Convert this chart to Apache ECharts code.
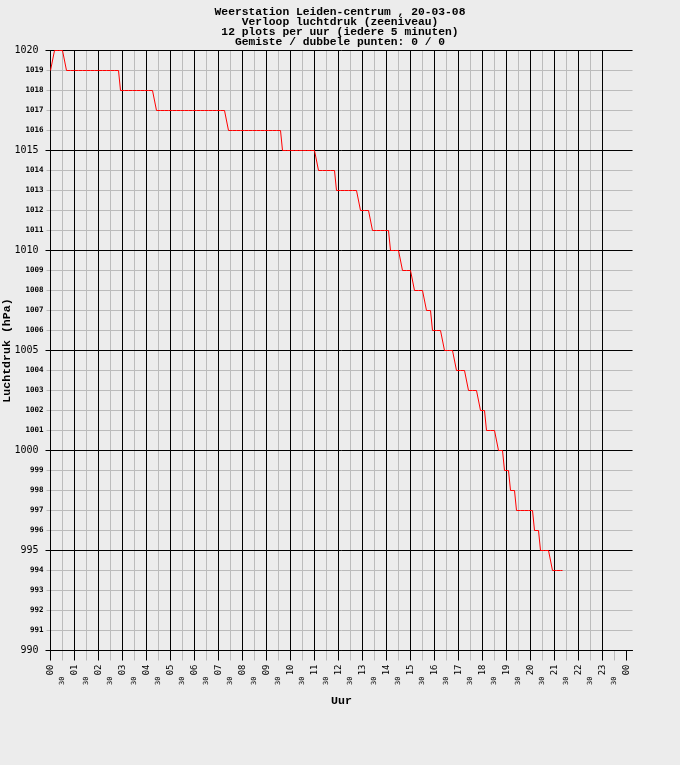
<!DOCTYPE html>
<html>
<head>
<meta charset="utf-8">
<script src="https://cdn.jsdelivr.net/npm/echarts@6/dist/echarts.min.js"></script>
<style>
html,body{margin:0;padding:0;background:#ececec;}
#c{width:680px;height:765px;}
</style>
</head>
<body>
<div id="c"></div>
<script>
const titleLines = [
  'Weerstation Leiden-centrum , 20-03-08',
  'Verloop luchtdruk (zeeniveau)',
  '12 plots per uur (iedere 5 minuten)',
  'Gemiste / dubbele punten: 0 / 0'
];
const xAxisName = 'Uur';
const yAxisName = 'Luchtdruk (hPa)';
const hourTicks = [0,1,2,3,4,5,6,7,8,9,10,11,12,13,14,15,16,17,18,19,20,21,22,23,24];
const hourLabels = ['00','01','02','03','04','05','06','07','08','09','10','11','12','13','14','15','16','17','18','19','20','21','22','23','00'];
const halfHourTicks = [0.5,1.5,2.5,3.5,4.5,5.5,6.5,7.5,8.5,9.5,10.5,11.5,12.5,13.5,14.5,15.5,16.5,17.5,18.5,19.5,20.5,21.5,22.5,23.5];
const halfHourLabel = '30';
const yMin = 990, yMax = 1020;
const sampleMinutes = 5;
// luchtdruk per 5 minuten vanaf 00:00 (12 waarden per uur)
const pressure = [
  1019,1019,1020,1020,1020,1020,1020,1020,1019,1019,1019,1019, // 00
  1019,1019,1019,1019,1019,1019,1019,1019,1019,1019,1019,1019, // 01
  1019,1019,1019,1019,1019,1019,1019,1019,1019,1019,1019,1018, // 02
  1018,1018,1018,1018,1018,1018,1018,1018,1018,1018,1018,1018, // 03
  1018,1018,1018,1018,1018,1017,1017,1017,1017,1017,1017,1017, // 04
  1017,1017,1017,1017,1017,1017,1017,1017,1017,1017,1017,1017, // 05
  1017,1017,1017,1017,1017,1017,1017,1017,1017,1017,1017,1017, // 06
  1017,1017,1017,1017,1017,1016,1016,1016,1016,1016,1016,1016, // 07
  1016,1016,1016,1016,1016,1016,1016,1016,1016,1016,1016,1016, // 08
  1016,1016,1016,1016,1016,1016,1016,1016,1015,1015,1015,1015, // 09
  1015,1015,1015,1015,1015,1015,1015,1015,1015,1015,1015,1015, // 10
  1015,1015,1014,1014,1014,1014,1014,1014,1014,1014,1014,1013, // 11
  1013,1013,1013,1013,1013,1013,1013,1013,1013,1013,1013,1012, // 12
  1012,1012,1012,1012,1012,1011,1011,1011,1011,1011,1011,1011, // 13
  1011,1011,1010,1010,1010,1010,1010,1010,1009,1009,1009,1009, // 14
  1009,1009,1008,1008,1008,1008,1008,1008,1007,1007,1007,1006, // 15
  1006,1006,1006,1006,1006,1005,1005,1005,1005,1005,1005,1004, // 16
  1004,1004,1004,1004,1004,1003,1003,1003,1003,1003,1003,1002, // 17
  1002,1002,1001,1001,1001,1001,1001,1001,1000,1000,1000,999,  // 18
  999,999,998,998,998,997,997,997,997,997,997,997,             // 19
  997,997,996,996,996,995,995,995,995,995,995,994,             // 20
  994,994,994,994,994                                          // 21
];

const MONO = 'DejaVu Sans Mono';
const MONO_B = 'Liberation Mono';
const GRID_MINOR = '#bbbbbb';
const seriesData = pressure.map((v, i) => [i * sampleMinutes / 60, v]);

const chart = echarts.init(document.getElementById('c'));
chart.setOption({
  backgroundColor: '#ececec',
  animation: false,
  title: {
    text: titleLines.join('\n'),
    left: 'center',
    top: 2,
    textStyle: { fontFamily: MONO_B, fontWeight: 'bold', fontSize: 11.3, lineHeight: 10, color: '#000' }
  },
  grid: { left: 50.5, top: 50.5, width: 582, height: 600, containLabel: false, outerBoundsMode: 'none' },
  xAxis: [
    {
      type: 'value', position: 'bottom', min: 0, max: 24.25, interval: 1, z: 2,
      axisLine: { show: true, onZero: false, lineStyle: { color: '#000', width: 1 } },
      axisTick: { show: true, length: 10, lineStyle: { color: '#000', width: 1 }, customValues: hourTicks },
      axisLabel: {
        rotate: 90, margin: 14, fontSize: 9, fontFamily: MONO, color: '#000',
        customValues: hourTicks,
        formatter: v => { const k = hourTicks.indexOf(v); return k >= 0 ? hourLabels[k] : ''; }
      },
      splitLine: { show: true, showMaxLine: false, lineStyle: { color: '#000', width: 1 } },
      name: xAxisName, nameLocation: 'middle', nameGap: 45, nameMoveOverlap: false,
      nameTextStyle: { fontFamily: MONO_B, fontWeight: 'bold', fontSize: 11.6, color: '#000' }
    },
    {
      type: 'value', position: 'bottom', min: 0, max: 24.25, interval: 0.5, z: 1,
      axisLine: { show: false },
      axisTick: { show: true, length: 10, lineStyle: { color: GRID_MINOR, width: 1 }, customValues: halfHourTicks },
      axisLabel: {
        rotate: 90, margin: 26, fontSize: 7, fontFamily: MONO, color: '#000',
        customValues: halfHourTicks,
        formatter: v => (halfHourTicks.indexOf(v) >= 0 ? halfHourLabel : '')
      },
      splitLine: { show: true, showMaxLine: false, lineStyle: { color: GRID_MINOR, width: 1 } }
    }
  ],
  yAxis: [
    {
      type: 'value', position: 'left', min: yMin, max: yMax, interval: 5, z: 2,
      axisLine: { show: true, onZero: false, lineStyle: { color: '#000', width: 1 } },
      axisTick: { show: true, length: 5, lineStyle: { color: '#000', width: 1 } },
      axisLabel: { margin: 12, fontSize: 10, fontFamily: MONO, color: '#000', formatter: v => String(v) },
      splitLine: { show: true, lineStyle: { color: '#000', width: 1 } },
      name: yAxisName, nameLocation: 'middle', nameGap: 37, nameMoveOverlap: false,
      nameTextStyle: { fontFamily: MONO_B, fontWeight: 'bold', fontSize: 11.6, color: '#000' }
    },
    {
      type: 'value', position: 'left', min: yMin, max: yMax, interval: 1, z: 1,
      axisLine: { show: false },
      axisTick: { show: true, length: 4, lineStyle: { color: GRID_MINOR, width: 1 } },
      axisLabel: {
        margin: 7, fontSize: 7.5, fontWeight: 'bold', fontFamily: MONO, color: '#000',
        formatter: v => (v % 5 === 0 ? '' : String(v))
      },
      splitLine: { show: true, lineStyle: { color: GRID_MINOR, width: 1 } }
    }
  ],
  series: [
    {
      type: 'line', xAxisIndex: 0, yAxisIndex: 0,
      data: seriesData,
      symbol: 'none', showSymbol: false,
      lineStyle: { color: '#ff0000', width: 1 },
      z: 5, silent: true
    }
  ]
});
</script>
</body>
</html>
